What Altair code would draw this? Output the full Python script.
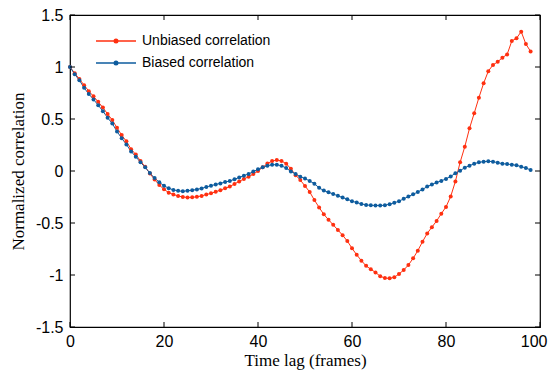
import altair as alt
import pandas as pd

frames = list(range(99))

unbiased = [1.0, 0.94, 0.885, 0.825, 0.768, 0.718, 0.665, 0.61, 0.548, 0.49,
            0.415, 0.345, 0.285, 0.21, 0.158, 0.097, 0.04, -0.025, -0.082, -0.135,
            -0.176, -0.208, -0.226, -0.24, -0.25, -0.254, -0.253, -0.248, -0.24, -0.226,
            -0.215, -0.2, -0.184, -0.167, -0.15, -0.124, -0.1, -0.077, -0.055, -0.03,
            0.0, 0.035, 0.072, 0.095, 0.105, 0.097, 0.07, 0.022, -0.04, -0.087,
            -0.144, -0.202, -0.279, -0.35, -0.417, -0.468, -0.518, -0.567, -0.618, -0.673,
            -0.743, -0.806, -0.862, -0.912, -0.945, -0.975, -1.012, -1.03, -1.032, -1.022,
            -0.99, -0.952, -0.904, -0.84, -0.766, -0.68, -0.6, -0.54, -0.48, -0.41,
            -0.345, -0.245, -0.1, 0.083, 0.234, 0.41, 0.555, 0.705, 0.843, 0.96,
            1.02, 1.05, 1.09, 1.12, 1.25, 1.276, 1.34, 1.22, 1.15]

biased = [1.0, 0.93, 0.872, 0.80, 0.74, 0.688, 0.633, 0.575, 0.512, 0.456,
          0.38, 0.315, 0.255, 0.188, 0.138, 0.083, 0.035, -0.02, -0.068, -0.108,
          -0.142, -0.166, -0.182, -0.191, -0.195, -0.19, -0.184, -0.177, -0.168, -0.153,
          -0.142, -0.129, -0.119, -0.106, -0.096, -0.08, -0.062, -0.045, -0.028, -0.006,
          0.016, 0.035, 0.051, 0.06, 0.061, 0.05, 0.028, -0.004, -0.029, -0.055,
          -0.073, -0.096, -0.122, -0.162, -0.188, -0.205, -0.221, -0.239, -0.255, -0.272,
          -0.29, -0.303, -0.317, -0.326, -0.33, -0.331, -0.332, -0.329, -0.319, -0.306,
          -0.29, -0.268, -0.246, -0.224, -0.202, -0.178, -0.15, -0.13, -0.11, -0.095,
          -0.076, -0.052, -0.022, 0.003, 0.032, 0.051, 0.07, 0.083, 0.09, 0.093,
          0.09, 0.08, 0.07, 0.067, 0.061, 0.055, 0.041, 0.029, 0.01]

series_names = ["Unbiased correlation", "Biased correlation"]
series_colors = ["#ff3010", "#0e5c9e"]

x_ticks = [0, 20, 40, 60, 80, 100]
y_ticks = [-1.5, -1, -0.5, 0, 0.5, 1, 1.5]

rows = []
for f, v in zip(frames, unbiased):
    rows.append({"lag": f, "value": v, "series": series_names[0], "ord": 0})
for f, v in zip(frames, biased):
    rows.append({"lag": f, "value": v, "series": series_names[1], "ord": 1})
df = pd.DataFrame(rows)

W, H = 470, 312

xscale = alt.Scale(domain=[0, 100], nice=False, zero=False)
yscale = alt.Scale(domain=[-1.5, 1.5], nice=False, zero=False)

sym = "M-4,0L4,0M-0.35,0A0.35,0.35,0,1,1,0.35,0A0.35,0.35,0,1,1,-0.35,0Z"

lines = alt.Chart(df).mark_line(
    point=alt.OverlayMarkDef(size=16, filled=True), strokeWidth=1
).encode(
    x=alt.X("lag:Q", scale=xscale,
            axis=alt.Axis(values=x_ticks, title="Time lag (frames)", ticks=False, tickSize=0,
                          labelPadding=6, titlePadding=3, grid=False, domain=False,
                          labelFlush=False,
                          labelAlign={"condition": {"test": "datum.value == 100", "value": "right"},
                                      "value": "center"},
                          labelOffset={"condition": {"test": "datum.value == 100", "value": 7},
                                       "value": 0})),
    y=alt.Y("value:Q", scale=yscale,
            axis=alt.Axis(values=y_ticks, title="Normalized correlation", ticks=False, tickSize=0,
                          labelPadding=7, titlePadding=8, grid=False, domain=False,
                          labelFlush=False, labelExpr="'' + datum.value")),
    color=alt.Color("series:N",
                    scale=alt.Scale(domain=series_names, range=series_colors),
                    legend=alt.Legend(title=None, orient="none", legendX=39, legendY=19,
                                      symbolType=sym, symbolSize=100, symbolStrokeWidth=1.5,
                                      labelOffset=19, rowPadding=8, padding=0,
                                      labelFontSize=14, labelFont="Liberation Sans",
                                      labelColor="black")),
    order=alt.Order("ord:Q"),
    detail="series:N",
)

xt = pd.DataFrame({"t": x_ticks})
yt = pd.DataFrame({"t": y_ticks})

tick_x_bottom = alt.Chart(xt).mark_rule(color="black", strokeWidth=1).encode(
    x=alt.X("t:Q", scale=xscale), y=alt.value(H), y2=alt.value(H - 5))
tick_x_top = alt.Chart(xt).mark_rule(color="black", strokeWidth=1).encode(
    x=alt.X("t:Q", scale=xscale), y=alt.value(0), y2=alt.value(5))
tick_y_left = alt.Chart(yt).mark_rule(color="black", strokeWidth=1).encode(
    y=alt.Y("t:Q", scale=yscale), x=alt.value(0), x2=alt.value(5))
tick_y_right = alt.Chart(yt).mark_rule(color="black", strokeWidth=1).encode(
    y=alt.Y("t:Q", scale=yscale), x=alt.value(W), x2=alt.value(W - 5))

chart = alt.layer(lines, tick_x_bottom, tick_x_top, tick_y_left, tick_y_right).properties(
    width=W, height=H,
    background="white",
    autosize=alt.AutoSizeParams(type="none"),
    padding={"left": 62, "top": 7, "right": 8, "bottom": 44},
).configure_view(
    stroke="black", strokeWidth=1.2
).configure_axis(
    labelFont="Liberation Sans", labelFontSize=16, labelColor="black",
    titleFont="Liberation Serif", titleFontSize=17, titleFontWeight="normal", titleColor="black",
)

chart.save("out.html", embed_options={"renderer": "svg", "actions": False})
